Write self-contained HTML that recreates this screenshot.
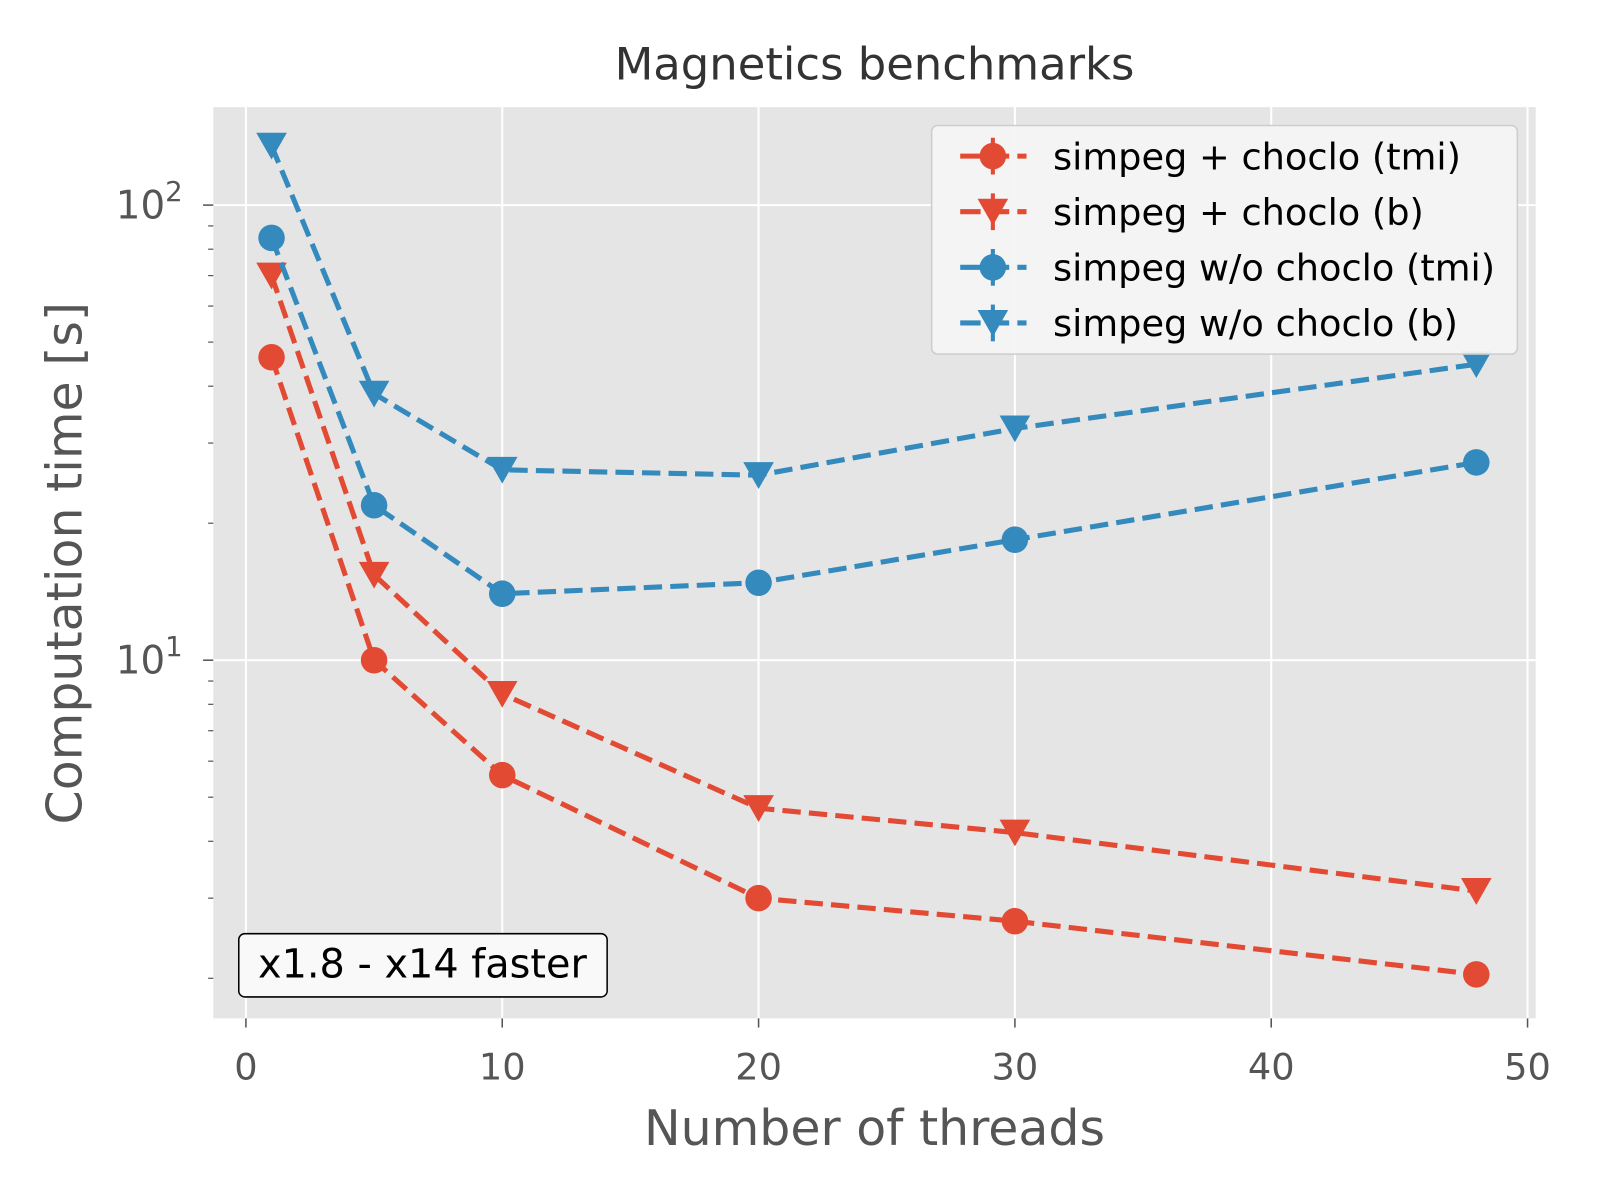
<!DOCTYPE html>
<html><head><meta charset="utf-8"><style>
html,body{margin:0;padding:0;background:#fff}
svg{display:block;font-family:"DejaVu Sans","Liberation Sans",sans-serif}
</style></head><body>
<svg id="chart" width="1600" height="1200" viewBox="0 0 1568 1176">
<rect x="209" y="105" width="1296" height="893" fill="#e5e5e5"/>
<g id="grid"></g>
<g id="axes"></g>
<g id="series"></g>
<text x="857" y="78" text-anchor="middle" font-size="44" fill="#333">Magnetics benchmarks</text>
<text x="857" y="1122" text-anchor="middle" font-size="48" fill="#555">Number of threads</text>
<text transform="translate(80,552) rotate(-90)" text-anchor="middle" font-size="48" fill="#555">Computation time [s]</text>
<g>
<rect x="234" y="915" width="361" height="62" rx="6" fill="#f9f9f9" stroke="#000" stroke-width="1.5"/>
<text x="414" y="958" text-anchor="middle" font-size="39" fill="#000">x1.8 - x14 faster</text>
</g>
<g id="legend">
<rect x="913" y="123" width="574" height="224" rx="6" fill="#f5f5f5" stroke="#ccc" stroke-width="1.5" opacity="0.95"/>
</g>
</svg>
<script>
const threads=[1,5,10,20,30,48];
const choTmi=[46.3,10,5.59,3.0,2.67,2.04];
const choB=[70,15.4,8.43,4.73,4.18,3.11];
const noTmi=[84.7,21.9,14.0,14.8,18.4,27.2];
const noB=[135,38.5,26.2,25.5,32.3,44.7];
const xTicks=[0,10,20,30,40,50];
const seriesNames=["simpeg + choclo (tmi)","simpeg + choclo (b)","simpeg w/o choclo (tmi)","simpeg w/o choclo (b)"];
const NS="http://www.w3.org/2000/svg";
const X0=209,X1=1505,Y0=105,Y1=998;
function xs(v){return 241+(v-0)*25.12;}
function ys(v){return 647-(Math.log10(v)-1)*446;}
function mk(tag,attrs,parent){const e=document.createElementNS(NS,tag);for(const k in attrs)e.setAttribute(k,attrs[k]);parent.appendChild(e);return e;}
const grid=document.getElementById('grid'),axes=document.getElementById('axes'),ser=document.getElementById('series');
xTicks.forEach(t=>{
 const x=xs(t);
 const l=mk('line',{x1:x,x2:x,y1:Y0,y2:Y1,stroke:'#fff','stroke-width':2},grid);
 
 
 mk('line',{x1:x,x2:x,y1:Y1,y2:Y1+9,stroke:'#555','stroke-width':1.5},axes);
 const tx=mk('text',{x:x,y:Y1+60,'text-anchor':'middle','font-size':36,fill:'#555'},axes);
 tx.textContent=t;
 
 
});
[1,2].forEach(p=>{
 const y=ys(Math.pow(10,p));
 const l=mk('line',{x1:X0,x2:X1,y1:y,y2:y,stroke:'#fff','stroke-width':2},grid);
 
 
 mk('line',{x1:X0-10,x2:X0,y1:y,y2:y,stroke:'#555','stroke-width':1.5},axes);
 const tx=mk('text',{x:X0-30,y:y+13,'text-anchor':'end','font-size':38,fill:'#555'},axes);
 tx.innerHTML='10<tspan dy="-17" font-size="27">'+p+'</tspan>';
 
 
});
[0,1].forEach(p=>{for(let m=2;m<=9;m++){const v=m*Math.pow(10,p);const y=ys(v);if(y<Y0||y>Y1)continue;
 mk('line',{x1:X0-5,x2:X0,y1:y,y2:y,stroke:'#555','stroke-width':1.2},axes);}});
const red='#e24a33',blue='#348abd';
function tri(cx,cy,s){return `${cx-s},${cy-s*0.85} ${cx+s},${cy-s*0.85} ${cx},${cy+s*0.9}`;}
function drawSeries(vals,color,shape,name){
 const g=mk('g',{},ser);
 
 
 const pts=threads.map((t,i)=>xs(t)+','+ys(vals[i])).join(' ');
 mk('polyline',{points:pts,fill:'none',stroke:color,'stroke-width':5,'stroke-dasharray':'18,8'},g);
 threads.forEach((t,i)=>{
  const cx=xs(t),cy=ys(vals[i]);
  let m;
  if(shape==='o')m=mk('circle',{cx:cx,cy:cy,r:13,fill:color},g);
  else m=mk('polygon',{points:tri(cx,cy,15),fill:color},g);
  
  
 });
}
drawSeries(choTmi,red,'o','series-choclo-tmi');
drawSeries(choB,red,'v','series-choclo-b');
drawSeries(noTmi,blue,'o','series-no-choclo-tmi');
drawSeries(noB,blue,'v','series-no-choclo-b');
const leg=document.getElementById('legend');
const cols=[red,red,blue,blue],shapes=['o','v','o','v'];
seriesNames.forEach((n,i)=>{
 const y=153+i*54.5;
 const g=mk('g',{},leg);
 
 
 mk('line',{x1:941,x2:1006,y1:y,y2:y,stroke:cols[i],'stroke-width':5,'stroke-dasharray':'20,8'},g);
 mk('line',{x1:973,x2:973,y1:y-18,y2:y+18,stroke:cols[i],'stroke-width':4},g);
 if(shapes[i]==='o')mk('circle',{cx:973,cy:y,r:13,fill:cols[i]},g);
 else mk('polygon',{points:tri(973,y,15),fill:cols[i]},g);
 const t=mk('text',{x:1032,y:y+13,'font-size':36,fill:'#000'},g);
 t.textContent=n;
});
</script>
</body></html>
